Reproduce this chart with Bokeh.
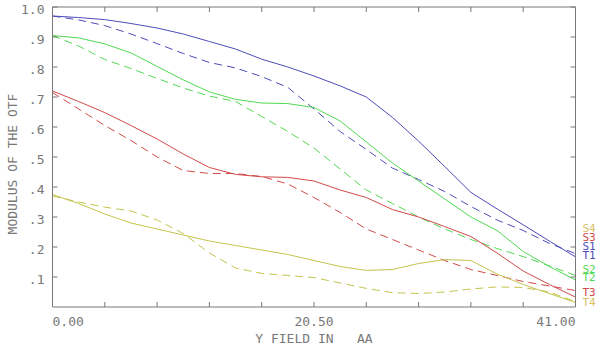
import math
from bokeh.plotting import figure
from bokeh.models import Range1d, ColumnDataSource
from bokeh.core.properties import value
from bokeh.embed import file_html
from bokeh.resources import INLINE

# ---------------- data ----------------
field = [0, 2.05, 4.1, 6.15, 8.2, 10.25, 12.3, 14.35, 16.4, 18.45, 20.5,
         22.55, 24.6, 26.65, 28.7, 30.75, 32.8, 34.85, 36.9, 38.95, 41.0]

t1 = [0.970, 0.965, 0.958, 0.945, 0.930, 0.910, 0.885, 0.860, 0.826, 0.800, 0.770,
      0.737, 0.700, 0.632, 0.553, 0.468, 0.382, 0.327, 0.274, 0.220, 0.167]
s1 = [0.970, 0.957, 0.938, 0.910, 0.878, 0.845, 0.815, 0.797, 0.768, 0.732, 0.660,
      0.585, 0.525, 0.463, 0.425, 0.385, 0.335, 0.290, 0.255, 0.212, 0.178]
t2 = [0.905, 0.897, 0.877, 0.847, 0.802, 0.757, 0.717, 0.692, 0.680, 0.678, 0.665,
      0.620, 0.550, 0.480, 0.420, 0.360, 0.300, 0.255, 0.185, 0.135, 0.090]
s2 = [0.905, 0.870, 0.825, 0.795, 0.762, 0.730, 0.703, 0.685, 0.635, 0.585, 0.530,
      0.460, 0.390, 0.345, 0.300, 0.260, 0.225, 0.195, 0.168, 0.137, 0.105]
t3 = [0.720, 0.685, 0.648, 0.605, 0.560, 0.510, 0.465, 0.442, 0.434, 0.432, 0.420,
      0.390, 0.365, 0.325, 0.300, 0.268, 0.235, 0.180, 0.120, 0.075, 0.033]
s3 = [0.715, 0.660, 0.605, 0.555, 0.500, 0.455, 0.445, 0.445, 0.435, 0.410, 0.365,
      0.315, 0.260, 0.225, 0.190, 0.155, 0.125, 0.105, 0.085, 0.070, 0.055]
t4 = [0.375, 0.345, 0.310, 0.280, 0.260, 0.240, 0.220, 0.205, 0.190, 0.175, 0.155,
      0.135, 0.122, 0.125, 0.145, 0.158, 0.155, 0.110, 0.075, 0.045, 0.015]
s4 = [0.370, 0.350, 0.333, 0.320, 0.290, 0.245, 0.180, 0.130, 0.112, 0.105, 0.098,
      0.080, 0.062, 0.048, 0.045, 0.050, 0.060, 0.067, 0.065, 0.050, 0.018]

x_ticks = [0, 4.1, 8.2, 12.3, 16.4, 20.5, 24.6, 28.7, 32.8, 36.9, 41.0]
x_tick_labels = ["0.00", "20.50", "41.00"]
x_tick_label_pos = [0, 20.5, 41.0]
y_ticks = [0.1, 0.2, 0.3, 0.4, 0.5, 0.6, 0.7, 0.8, 0.9, 1.0]
y_tick_labels = [".1", ".2", ".3", ".4", ".5", ".6", ".7", ".8", ".9", "1.0"]
x_title = "Y FIELD IN\u00a0\u00a0\u00a0AA"
y_title = "MODULUS OF THE OTF"
legend_names = ["S4", "S3", "S1", "T1", "S2", "T2", "T3", "T4"]

# ---------------- layout / style ----------------
W, H = 600, 351
LEFT, RIGHT, TOP, BOTTOM = 52, 25, 6.5, 44.5   # pixel margins around the plot box
x_min, x_max = field[0], field[-1]
y_min, y_max = 0.0, 1.0
xs = (x_max - x_min) / (W - LEFT - RIGHT)
ys = (y_max - y_min) / (H - TOP - BOTTOM)

BLUE = "#4c4cb8"
GREEN = "#52d852"
RED = "#d04a4a"
YELLOW = "#c4c44e"
LEG_YELLOW = "#d8c060"
GRAY = "#787878"
FONT = value("DejaVu Sans Mono")

series = [
    (t1, BLUE, "solid"), (s1, BLUE, "8 5"),
    (t2, GREEN, "solid"), (s2, GREEN, "8 5"),
    (t3, RED, "solid"), (s3, RED, "8 5"),
    (t4, YELLOW, "solid"), (s4, YELLOW, "8 5"),
]
legend_colors = [LEG_YELLOW, RED, BLUE, BLUE, GREEN, GREEN, RED, LEG_YELLOW]
legend_y = [0.262, 0.232, 0.202, 0.172, 0.125, 0.099, 0.049, 0.016]

p = figure(width=W, height=H,
           x_range=Range1d(x_min - LEFT * xs, x_max + RIGHT * xs),
           y_range=Range1d(y_min - BOTTOM * ys, y_max + TOP * ys),
           output_backend="svg", toolbar_location=None,
           x_axis_location=None, y_axis_location=None,
           min_border=0, min_border_left=0, min_border_right=0,
           min_border_top=0, min_border_bottom=0)
p.outline_line_color = None
p.grid.visible = False
p.background_fill_color = "white"
p.border_fill_color = "white"

# curves
for yv, col, dash in series:
    p.line(field, yv, line_color=col, line_width=1, line_dash=dash)

# plot box
p.quad(left=[x_min], right=[x_max], bottom=[y_min], top=[y_max],
       fill_color=None, line_color=GRAY, line_width=1)

# inward ticks on all four sides
TL = 5
p.ray(x=x_ticks, y=[y_min] * len(x_ticks), length=TL, length_units="screen",
      angle=math.pi / 2, line_color=GRAY)
p.ray(x=x_ticks, y=[y_max] * len(x_ticks), length=TL, length_units="screen",
      angle=-math.pi / 2, line_color=GRAY)
p.ray(x=[x_min] * len(y_ticks), y=y_ticks, length=TL, length_units="screen",
      angle=0, line_color=GRAY)
p.ray(x=[x_max] * len(y_ticks), y=y_ticks, length=TL, length_units="screen",
      angle=math.pi, line_color=GRAY)

# y tick labels
p.text(x=[x_min] * len(y_ticks), y=y_ticks, text=y_tick_labels, x_offset=-8, y_offset=2,
       text_align="right", text_baseline="middle", text_font=FONT,
       text_font_size="13px", text_color=GRAY)

# x tick labels
for lab, pos, al in zip(x_tick_labels, x_tick_label_pos, ["left", "center", "right"]):
    p.text(x=[pos], y=[y_min], text=[lab], y_offset=14, text_align=al,
           text_baseline="middle", text_font=FONT, text_font_size="13px",
           text_color=GRAY)

# axis titles
p.text(x=[(x_min + x_max) / 2], y=[y_min], text=[x_title], y_offset=31,
       text_align="center", text_baseline="middle", text_font=FONT,
       text_font_size="13px", text_color=GRAY)
p.text(x=[x_min], y=[(y_min + y_max) / 2], text=[y_title], x_offset=-40, y_offset=7,
       angle=math.pi / 2, text_align="center", text_baseline="middle", text_font=FONT,
       text_font_size="13px", text_color=GRAY)

# right-hand legend
leg = ColumnDataSource(dict(x=[x_max] * len(legend_names), y=legend_y,
                            t=legend_names, c=legend_colors))
p.text(x="x", y="y", text="t", text_color="c", source=leg, x_offset=7,
       text_align="left", text_baseline="middle", text_font=FONT,
       text_font_size="11px")

open("out.html", "w").write(file_html(p, INLINE))
